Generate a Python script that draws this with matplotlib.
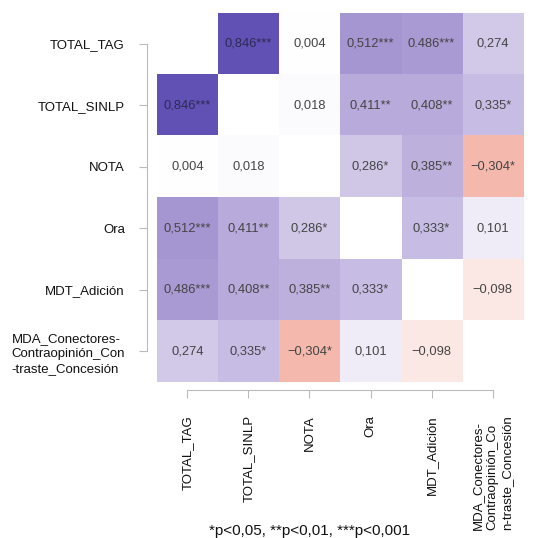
import matplotlib.pyplot as plt
import numpy as np
from matplotlib.colors import LinearSegmentedColormap

plt.rcParams['font.family'] = ['Liberation Sans', 'DejaVu Sans']

labels_y = ['TOTAL_TAG', 'TOTAL_SINLP', 'NOTA', 'Ora', 'MDT_Adición',
            'MDA_Conectores-\nContraopinión_Con\n-traste_Concesión']
labels_x = ['TOTAL_TAG', 'TOTAL_SINLP', 'NOTA', 'Ora', 'MDT_Adición',
            'MDA_Conectores-\nContraopinión_Co\nn-traste_Concesión']

r = np.array([
    [np.nan, 0.846, 0.004, 0.512, 0.486, 0.274],
    [0.846, np.nan, 0.018, 0.411, 0.408, 0.335],
    [0.004, 0.018, np.nan, 0.286, 0.385, -0.304],
    [0.512, 0.411, 0.286, np.nan, 0.333, 0.101],
    [0.486, 0.408, 0.385, 0.333, np.nan, -0.098],
    [0.274, 0.335, -0.304, 0.101, -0.098, np.nan],
])
stars = [
    ['', '***', '', '***', '***', ''],
    ['***', '', '', '**', '**', '*'],
    ['', '', '', '*', '**', '*'],
    ['***', '**', '*', '', '*', ''],
    ['***', '**', '**', '*', '', ''],
    ['', '*', '*', '', '', ''],
]
# the original table mixes decimal marks, keep it as printed
texts = [['' if np.isnan(v) else ('%.3f' % v).replace('.', ',').replace('-', '−') + s
          for v, s in zip(row, srow)] for row, srow in zip(r, stars)]
texts[0][4] = '0.486***'

cmap = LinearSegmentedColormap.from_list('rp', [
    (0.0, '#e8806a'), (0.348, '#f4b8ad'), (0.5, '#ffffff'),
    (0.637, '#d3cae9'), (0.75, '#a898d3'), (0.923, '#6352b5'), (1.0, '#5040a8')])

fig = plt.figure(figsize=(5.41, 5.38), dpi=100)
ax = fig.add_axes([0.290, 0.290, 0.677, 0.686])

n = len(labels_y)
ax.imshow(np.ma.masked_invalid(r), cmap=cmap, vmin=-1, vmax=1, aspect='auto',
          extent=(-0.5, n - 0.5, n - 0.5, -0.5))

for i in range(n):
    for j in range(n):
        if texts[i][j]:
            col = '#2b2b55' if r[i, j] > 0.8 else '#444444'
            ax.text(j, i, texts[i][j], ha='center', va='center', fontsize=9.3, color=col)

ax.set_xlim(-0.5, n - 0.5)
ax.set_ylim(n - 0.5, -0.5)

for s in ['top', 'right']:
    ax.spines[s].set_visible(False)
ax.spines['left'].set_position(('outward', 7))
ax.spines['bottom'].set_position(('outward', 6))
ax.spines['left'].set_bounds(0, n - 1)
ax.spines['bottom'].set_bounds(0, n - 1)
for s in ['left', 'bottom']:
    ax.spines[s].set_color('#bbbbbb')
ax.tick_params(colors='#bbbbbb', length=6, labelcolor='#111111')
ax.tick_params(axis='y', pad=10)
ax.tick_params(axis='x', pad=12)

ax.set_xticks(range(n))
ax.set_yticks(range(n))
ax.set_xticklabels(labels_x, rotation=90, ha='center', va='top', fontsize=9.5,
                   linespacing=1.25, multialignment='left')
ax.set_yticklabels(labels_y, fontsize=9.5, linespacing=1.3, multialignment='left')

fig.text(0.573, 0.006, '*p<0,05, **p<0,01, ***p<0,001', ha='center', fontsize=11,
         color='#111111')

fig.savefig('out.png', dpi=100)
